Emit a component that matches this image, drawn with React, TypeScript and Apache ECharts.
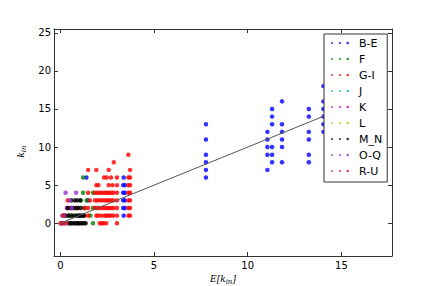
import React, { useEffect, useRef } from "react";
import * as echarts from "echarts";

const seriesNames = ["B-E", "F", "G-I", "J", "K", "L", "M_N", "O-Q", "R-U"];
const seriesColors = ["#0000ff", "#008000", "#ff0000", "#00bfbf", "#bf00bf", "#bfbf00", "#000000", "#9932cc", "#d62020"];

const dataBE: number[][] = [
  [7.77, 13], [7.77, 11], [7.77, 9], [7.77, 8], [7.77, 7], [7.77, 6],
  [11.05, 12], [11.05, 11], [11.05, 10], [11.05, 9], [11.05, 7],
  [11.3, 15], [11.3, 14], [11.3, 13], [11.3, 10], [11.3, 9], [11.3, 8],
  [11.83, 16], [11.83, 13], [11.83, 12], [11.83, 11], [11.83, 10], [11.83, 8],
  [13.26, 15], [13.26, 14], [13.26, 12], [13.26, 11], [13.26, 9], [13.26, 8],
  [14.04, 18], [14.04, 16], [14.04, 15], [14.04, 14], [14.04, 13], [14.04, 12],
  [1.39, 6], [1.47, 3], [1.05, 1],
  [3.38, 6], [3.35, 5], [3.45, 5], [3.35, 4], [3.45, 4], [3.35, 3], [3.45, 3],
  [3.35, 2], [3.45, 2], [3.38, 1],
];
const dataF: number[][] = [
  [1.21, 6], [1.21, 4], [1.74, 4], [1.74, 2], [1.1, 3], [1.3, 2], [0.9, 1],
  [1.6, 1], [1.74, 0], [0.95, 0], [1.4, 3], [1.2, 1],
];
const dataGI: number[][] = [
  [3.63, 9], [2.85, 8],
  [1.48, 7], [1.92, 7], [2.58, 7], [3.72, 7],
  [2.33, 6], [2.47, 6], [2.7, 6], [3.02, 6], [3.63, 6], [3.72, 6],
  [1.92, 5], [2.03, 5], [2.58, 5], [2.78, 5], [3.02, 5], [3.63, 5], [3.72, 5],
  [1.48, 4], [1.85, 4], [1.97, 4], [2.1, 4], [2.23, 4], [2.36, 4], [2.47, 4], [2.58, 4],
  [2.7, 4], [2.83, 4], [3.02, 4], [3.63, 4], [3.72, 4],
  [0.39, 3], [1.58, 3], [1.85, 3], [1.97, 3], [2.1, 3], [2.23, 3], [2.36, 3], [2.47, 3],
  [2.58, 3], [2.7, 3], [2.83, 3], [3.02, 3], [3.63, 3], [3.72, 3],
  [0.9, 2], [1.3, 2], [1.48, 2], [1.85, 2], [1.97, 2], [2.1, 2], [2.23, 2], [2.36, 2],
  [2.47, 2], [2.58, 2], [2.7, 2], [2.83, 2], [3.02, 2], [3.63, 2], [3.72, 2],
  [0.2, 1], [0.5, 1], [1.3, 1], [1.48, 1], [1.92, 1], [2.03, 1], [2.2, 1], [2.36, 1],
  [2.47, 1], [2.58, 1], [2.7, 1], [2.83, 1], [3.02, 1], [3.63, 1], [3.72, 1],
  [2.1, 0], [2.2, 0], [2.3, 0], [2.45, 0], [3.02, 0],
];
const dataJ: number[][] = [[0.45, 1], [0.55, 0]];
const dataK: number[][] = [[0.2, 1], [0.35, 2], [0.1, 0]];
const dataL: number[][] = [[0.6, 1]];
const dataMN: number[][] = [
  [0.6, 3], [0.78, 3], [0.9, 3], [1.05, 3],
  [0.39, 2], [0.5, 2], [0.6, 2], [0.7, 2], [0.82, 2], [0.95, 2], [1.1, 2],
  [0.3, 1], [0.45, 1], [0.6, 1], [0.72, 1], [0.85, 1], [1.0, 1], [1.15, 1], [1.25, 1],
  [0.45, 0], [0.55, 0], [0.65, 0], [0.75, 0], [0.85, 0], [0.95, 0], [1.05, 0],
  [1.15, 0], [1.25, 0], [1.35, 0],
];
const dataOQ: number[][] = [
  [0.28, 4], [0.84, 4], [0.1, 1], [0.2, 1], [0.05, 0], [0.15, 0], [0.25, 0], [0.5, 3], [0.6, 2],
];
const dataRU: number[][] = [[0, 0], [0.08, 0], [0.15, 1], [0.3, 0]];

const seriesData = [dataBE, dataF, dataGI, dataJ, dataK, dataL, dataMN, dataOQ, dataRU];

const fitLine: number[][] = [[0, 0], [17, 17]];
const xTicks = [0, 5, 10, 15];
const yTicks = [0, 5, 10, 15, 20, 25];
const xRange = [-0.34, 17.7];
const yRange = [-4.3, 25.5];

const legendIcon =
  "path://M0,0a1,1 0 1,0 2,0a1,1 0 1,0 -2,0M7.7,0a1.1,1.1 0 1,0 2.2,0a1.1,1.1 0 1,0 -2.2,0M15.2,0a1.3,1.3 0 1,0 2.6,0a1.3,1.3 0 1,0 -2.6,0";

const frameColor = "#333333";

export default function App() {
  const ref = useRef<HTMLDivElement>(null);
  useEffect(() => {
    document.body.style.margin = "0";
    const chart = echarts.init(ref.current!, null, { renderer: "svg" });
    const mathRich = {
      i: { fontFamily: "DejaVu Serif", fontStyle: "italic", fontSize: 9, color: "#000", lineHeight: 11, verticalAlign: "top" },
      s: { fontFamily: "DejaVu Serif", fontStyle: "italic", fontSize: 7, color: "#000", lineHeight: 8, verticalAlign: "bottom" },
    };
    const baseAxis = (pos: string, show: boolean, ticks: number[], range: number[]) => ({
      type: "value",
      position: pos,
      min: range[0],
      max: range[1],
      axisLine: { show: true, onZero: false, lineStyle: { color: frameColor, width: 1 } },
      axisTick: { show: true, inside: true, length: 4, customValues: ticks, lineStyle: { color: frameColor } },
      axisLabel: {
        show,
        customValues: ticks,
        fontSize: 10,
        color: "#000",
        fontFamily: "DejaVu Sans",
        margin: pos === "left" ? 3 : 4,
      },
      splitLine: { show: false },
    });
    const option: any = {
      animation: false,
      textStyle: { fontFamily: "DejaVu Sans" },
      grid: { left: 54, top: 29, width: 338, height: 227, outerBoundsMode: "none" },
      xAxis: [
        {
          ...baseAxis("bottom", true, xTicks, xRange),
          name: "{i|E[k}{s|in}{i|]}",
          nameLocation: "middle",
          nameGap: 16,
          nameTextStyle: { rich: mathRich, verticalAlign: "top" },
        },
        { ...baseAxis("top", false, xTicks, xRange) },
      ],
      yAxis: [
        {
          ...baseAxis("left", true, yTicks, yRange),
          name: "{i|k}{s|in}",
          nameLocation: "middle",
          nameGap: 20,
          nameRotate: 90,
          nameTextStyle: { rich: mathRich, padding: [0, 18, 0, 0] },
        },
        { ...baseAxis("right", false, yTicks, yRange) },
      ],
      legend: {
        orient: "vertical",
        left: 324,
        top: 34,
        padding: [2, 5, 4, 7],
        itemGap: 2,
        itemWidth: 18,
        itemHeight: 3,
        backgroundColor: "#ffffff",
        borderColor: frameColor,
        borderWidth: 1,
        borderRadius: 0,
        selectedMode: false,
        textStyle: { fontSize: 11, color: "#000", fontFamily: "DejaVu Sans", lineHeight: 14, padding: [0, 0, 0, 5] },
        data: seriesNames.map((n) => ({ name: n, icon: legendIcon })),
      },
      series: [
        ...seriesNames.map((name, i) => ({
          name,
          type: "scatter",
          data: seriesData[i],
          symbol: "circle",
          symbolSize: 4.5,
          itemStyle: { color: seriesColors[i] },
          silent: true,
        })),
        {
          name: "fit",
          type: "line",
          data: fitLine,
          symbol: "none",
          lineStyle: { color: "#555555", width: 1 },
          z: 3,
          silent: true,
        },
      ],
    };
    chart.setOption(option);
    return () => chart.dispose();
  }, []);
  return <div ref={ref} style={{ width: 436, height: 286 }} />;
}
